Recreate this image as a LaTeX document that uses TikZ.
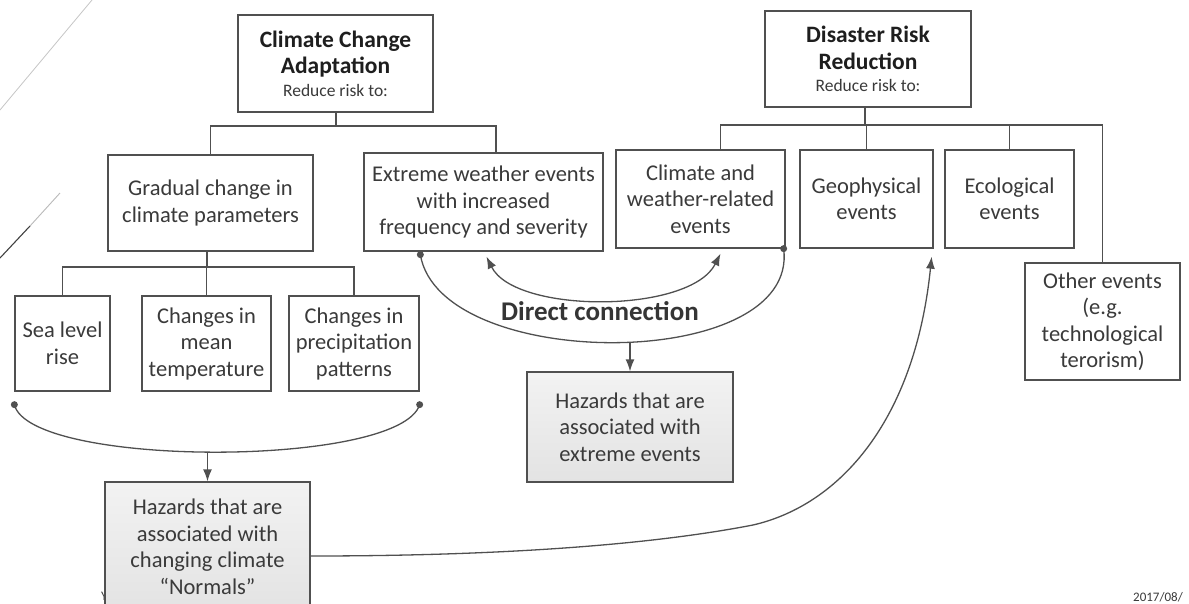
\documentclass[tikz,border=0pt]{standalone}
\usepackage{fontspec}
\setmainfont{Carlito}
\usetikzlibrary{arrows.meta,shadings}
\definecolor{linec}{HTML}{505050}
\definecolor{txtc}{HTML}{3A3A3A}
\definecolor{headc}{HTML}{1E1E1E}
\tikzset{
 bx/.style={draw=linec, line width=1.3pt, align=center, inner sep=0pt, text=txtc, font=\fontsize{22.5}{26.5}\selectfont, fill=white},
 hz/.style={bx, top color=gray!10, bottom color=gray!22},
 conn/.style={draw=linec, line width=1.3pt},
 tipend/.style={-{Latex[length=12pt,width=9pt]}},
 tipboth/.style={{Latex[length=12pt,width=9pt]}-{Latex[length=12pt,width=9pt]}},
 dotc/.style={circle, fill=linec, inner sep=0pt, minimum size=7pt}
}
\begin{document}
\begin{tikzpicture}[x=1pt,y=-1pt]
\useasboundingbox[fill=white] (0,0) rectangle (1189,603);
% slide decorations
\draw[gray!45, line width=0.8pt] (0,110) -- (92,0);
\draw[black!75, line width=1.1pt] (0,258) -- (30,226);
\draw[gray!55, line width=0.9pt] (30,226) -- (60,193);
\node[text=txtc, font=\fontsize{13}{15}\selectfont, anchor=west, inner sep=0pt] (yfoot) at (101,596) {Y};
\node[text=txtc, font=\fontsize{13}{15}\selectfont, anchor=west, inner sep=0pt] (date) at (1133,597) {2017/08/};

% top boxes
\node[bx, minimum width=195pt, minimum height=97pt] (cca) at (335.5,63.5)
 {\textbf{\color{headc}\fontsize{23.5}{26}\selectfont Climate Change}\\ \textbf{\color{headc}\fontsize{23.5}{26}\selectfont Adaptation}\\[-4pt] {\fontsize{17.5}{20}\selectfont Reduce risk to:}};
\node[bx, minimum width=206pt, minimum height=96pt] (drr) at (868,59)
 {\textbf{\color{headc}\fontsize{23.5}{26}\selectfont Disaster Risk}\\ \textbf{\color{headc}\fontsize{23.5}{26}\selectfont Reduction}\\[-4pt] {\fontsize{17.5}{20}\selectfont Reduce risk to:}};

% second row
\node[bx, minimum width=205pt, minimum height=96pt] (grad) at (210.5,203) {Gradual change in\\climate parameters};
\node[bx, minimum width=239pt, minimum height=98pt] (ext) at (483.5,202) {Extreme weather events\\with increased\\frequency and severity};
\node[bx, minimum width=169pt, minimum height=98pt] (cw) at (700.5,199) {Climate and\\weather-related\\events};
\node[bx, minimum width=133pt, minimum height=98pt] (geo) at (866.5,199) {Geophysical\\events};
\node[bx, minimum width=129pt, minimum height=98pt] (eco) at (1009.5,199) {Ecological\\events};
\node[bx, minimum width=155pt, minimum height=117pt] (oth) at (1102.5,321.5) {Other events\\(e.g.\\technological\\terorism)};

% third row
\node[bx, minimum width=95pt, minimum height=95pt] (sea) at (62.5,343.5) {Sea level\\rise};
\node[bx, minimum width=129pt, minimum height=95pt] (mean) at (206.5,343.5) {Changes in\\mean\\temperature};
\node[bx, minimum width=130pt, minimum height=95pt] (prec) at (354,343.5) {Changes in\\precipitation\\patterns};

% hazard boxes
\node[hz, minimum width=206pt, minimum height=110pt] (hex) at (630,427) {Hazards that are\\associated with\\extreme events};
\node[hz, minimum width=205pt, minimum height=130pt] (hn) at (207.5,547) {Hazards that are\\associated with\\changing climate\\``Normals''};

% tree connectors
\coordinate (j1) at (336,126);
\coordinate (j2) at (207,267);
\coordinate (j3) at (865,125);
\draw[conn] (cca.south -| j1) -- (j1);
\draw[conn] (grad.north) |- ([xshift=12.5pt]ext.north |- j1) -- ([xshift=12.5pt]ext.north);
\draw[conn] (grad.south -| j2) -- (j2);
\draw[conn] (sea.north) |- (prec.north |- j2) -- (prec.north);
\draw[conn] (mean.north) -- (mean.north |- j2);
\draw[conn] (drr.south -| j3) -- (j3);
\draw[conn] ([xshift=20pt]cw.north) |- (oth.north |- j3) -- (oth.north);
\draw[conn] (geo.north) -- (geo.north |- j3);
\draw[conn] (eco.north) -- (eco.north |- j3);

% dots
\node[dotc] (d1) at ([yshift=-13pt]sea.south west) {};
\node[dotc] (d2) at ([yshift=-13pt]prec.south east) {};
\node[dotc] (d3) at ([xshift=57pt,yshift=-3pt]ext.south west) {};
\node[dotc] (d4) at ([xshift=-2pt]cw.south east) {};

% curve to normals
\draw[conn] (d1.center) .. controls (30,468) and (400,468) .. coordinate[pos=0.5] (m1) (d2.center);
\draw[conn, tipend] (hn.north |- m1) -- (hn.north);

% big curve to extreme hazards
\draw[conn] (d3.center) .. controls (440,373) and (800,373) .. coordinate[pos=0.5] (m2) (d4.center);
\draw[conn, tipend] (hex.north |- m2) -- (hex.north);

% double arrow
\coordinate (t1) at ([xshift=3pt,yshift=-5pt]ext.south);
\coordinate (t2) at ([xshift=20pt,yshift=-5pt]cw.south);
\draw[conn, tipboth] (t1) .. controls (515,314) and (690,314) .. (t2);
\node[font=\bfseries\fontsize{27}{30}\selectfont, text=headc!90, inner sep=0pt] (dc) at (600,311) {Direct connection};

% normals to geophysical
\coordinate (gtip) at ([xshift=-2pt,yshift=-8pt]geo.south east);
\draw[conn, tipend] ([yshift=-9pt]hn.east) .. controls (500,556) and (650,545) .. (753,525) .. controls (840,505) and (915,420) .. (gtip);
\end{tikzpicture}
\end{document}
